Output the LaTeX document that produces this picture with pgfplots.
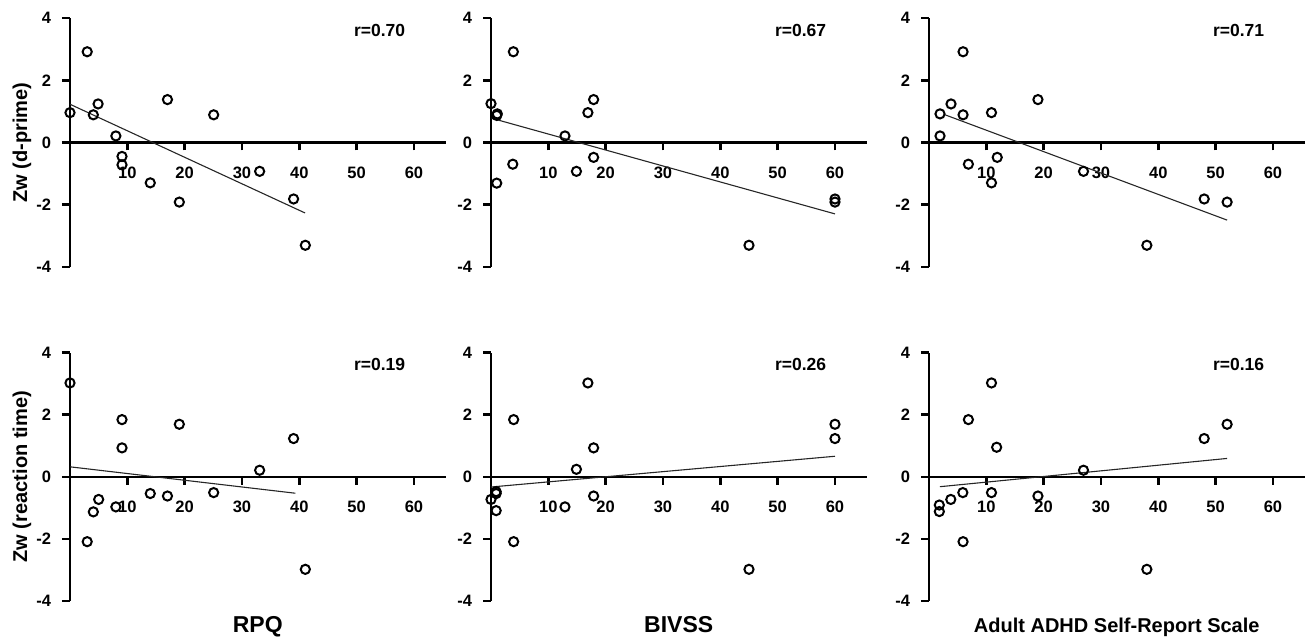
\documentclass[border=0pt]{standalone}
\usepackage{fontspec}
\setmainfont{Liberation Sans}
\usepackage{pgfplots}
\pgfplotsset{compat=1.18}

\newcommand{\tf}{\bfseries\fontsize{16.5}{17}\selectfont}
\pgfplotsset{
  panel/.style={
    scale only axis, width=375.5pt, height=248.5pt,
    xmin=0, xmax=65.5, ymin=-4, ymax=4,
    axis x line=middle, axis y line=left,
    axis line style={line width=2.4pt, -},
    xtick={10,20,30,40,50,60},
    xticklabels={{\tf 10},{\tf 20},{\tf 30},{\tf 40},{\tf 50},{\tf 60}},
    ytick={-4,-2,0,2,4},
    yticklabels={{\tf -4},{\tf -2},{\tf 0},{\tf 2},{\tf 4}},
    tick align=outside, major tick length=8pt,
    tick style={line width=2.4pt, black},
    x tick label style={yshift=-13pt},
    y tick label style={anchor=east, xshift=-7.5pt},
    hide obscured x ticks=false, hide obscured y ticks=false,
    clip=false,
    every axis y label/.style={at={(axis description cs:-0.128,0.5)}, rotate=90, anchor=center, font=\bfseries\fontsize{20}{20}\selectfont},
    every axis x label/.style={at={(axis description cs:0.5,-0.125)}, anchor=base, font=\bfseries\fontsize{23}{23}\selectfont},
  },
  pts/.style={only marks, mark=o, mark size=4.6pt, mark options={line width=2pt, black}},
  fit/.style={no marks, line width=1.1pt, black!85},
}
\newcommand{\rlab}[1]{\node[font=\bfseries\fontsize{17.5}{17.5}\selectfont] at (axis cs:54,3.6) {#1};}

\begin{document}
\begin{tikzpicture}
\useasboundingbox (0pt,0pt) rectangle (1309pt,-641pt);

% ---------- top row: d-prime ----------
\begin{axis}[panel, at={(70pt,-266.7pt)}, anchor=south west, ylabel={Zw (d-prime)}]
\addplot[pts] coordinates {
(0,0.96) (3.0,2.92) (4.07,0.89) (4.9,1.24) (8.0,0.21) (9.07,-0.45) (9.07,-0.72)
(14.0,-1.30) (17.0,1.38) (19.07,-1.92) (25.06,0.89) (33.08,-0.93) (39.0,-1.82) (41.05,-3.31)};
\addplot[fit] coordinates {(0,1.23) (41,-2.27)};
\rlab{r=0.70}
\end{axis}

\begin{axis}[panel, at={(491pt,-266.7pt)}, anchor=south west]
\addplot[pts] coordinates {
(0,1.25) (1.1,0.92) (1.0,0.87) (3.9,2.92) (3.8,-0.70) (1.0,-1.31) (12.9,0.21)
(14.9,-0.93) (16.9,0.96) (17.9,1.38) (17.9,-0.48) (45,-3.31) (60,-1.82) (60,-1.92)};
\addplot[fit] coordinates {(0.1,0.78) (60,-2.30)};
\rlab{r=0.67}
\end{axis}

\begin{axis}[panel, at={(929pt,-266.7pt)}, anchor=south west]
\addplot[pts] coordinates {
(1.92,0.92) (1.92,0.21) (3.84,1.24) (5.94,2.92) (5.94,0.89) (6.87,-0.70) (10.9,0.96)
(11.9,-0.48) (10.9,-1.30) (19.0,1.38) (26.95,-0.93) (38.0,-3.31) (48.0,-1.82) (52.0,-1.92)};
\addplot[fit] coordinates {(2.8,0.89) (52,-2.50)};
\rlab{r=0.71}
\end{axis}

% ---------- bottom row: reaction time ----------
\begin{axis}[panel, at={(70pt,-601pt)}, anchor=south west, ylabel={Zw (reaction time)}, xlabel={RPQ}]
\addplot[pts] coordinates {
(0,3.02) (3.0,-2.09) (4.07,-1.13) (5.0,-0.73) (8.0,-0.97) (9.07,1.84) (9.07,0.93)
(14.0,-0.54) (17.0,-0.62) (19.07,1.69) (25.06,-0.51) (33.08,0.21) (39.0,1.23) (41.05,-2.98)};
\addplot[fit] coordinates {(0,0.32) (39.3,-0.53)};
\rlab{r=0.19}
\end{axis}

\begin{axis}[panel, at={(491pt,-601pt)}, anchor=south west, xlabel={BIVSS}]
\addplot[pts] coordinates {
(0,-0.73) (0.9,-0.48) (0.9,-0.54) (0.9,-1.09) (3.95,1.84) (3.95,-2.09) (12.9,-0.97)
(14.9,0.24) (16.9,3.02) (17.9,0.93) (17.9,-0.62) (45,-2.98) (60,1.69) (60,1.23)};
\addplot[fit] coordinates {(0,-0.33) (60,0.66)};
\rlab{r=0.26}
\end{axis}

\begin{axis}[panel, at={(929pt,-601pt)}, anchor=south west, xlabel={Adult ADHD Self-Report Scale},
  every axis x label/.append style={font=\bfseries\fontsize{20}{20}\selectfont}]
\addplot[pts] coordinates {
(1.8,-0.91) (1.8,-1.12) (3.8,-0.73) (5.9,-0.51) (5.94,-2.09) (6.87,1.84) (10.9,3.02)
(10.9,-0.51) (11.8,0.95) (19.0,-0.62) (26.95,0.21) (38.0,-2.98) (48.0,1.23) (52.0,1.69)};
\addplot[fit] coordinates {(1.9,-0.32) (52,0.59)};
\rlab{r=0.16}
\end{axis}
\end{tikzpicture}
\end{document}
